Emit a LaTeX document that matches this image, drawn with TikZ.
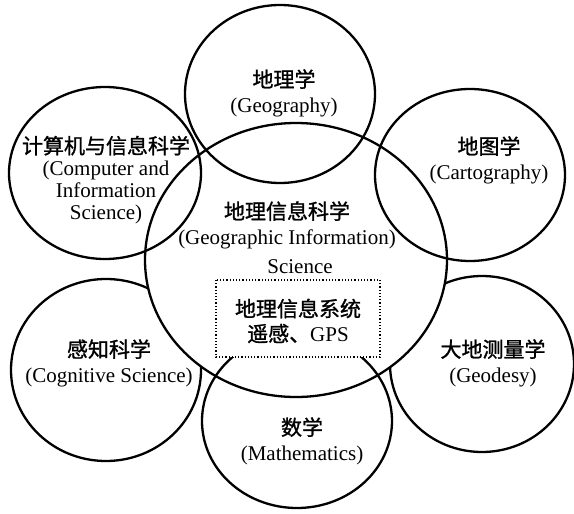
\documentclass[tikz,border=0pt]{standalone}
\usepackage{fontspec}
\setmainfont{Liberation Serif}
\newfontfamily\cjk{Noto Sans CJK SC}[FakeBold=1.2]
\usetikzlibrary{positioning}

\begin{document}
\begin{tikzpicture}[x=0.5pt, y=0.5pt, line width=1.15pt,
    label/.style={align=center, inner sep=0pt, font=\fontsize{10.5}{12.5}\selectfont}]
% GIS among its neighbouring disciplines
\def\centrecircle{(296,-260) ellipse (151 and 137)}
\def\geocircle{(280,-94) ellipse (95 and 89)}
\def\compcircle{(105,-173) ellipse (96 and 86)}
\def\cartocircle{(470,-175) ellipse (95 and 86)}
\def\cogcircle{(106,-370) ellipse (95 and 91)}
\def\geodcircle{(482,-364) ellipse (92 and 88)}
\def\mathcircle{(297,-421) ellipse (95 and 87)}

\path[use as bounding box] (0,0) rectangle (574,-514);

% the lower side circles sit behind the big one
\draw \cogcircle;
\draw \geodcircle;
\filldraw[fill=white] \centrecircle;

\draw \geocircle;
\draw \compcircle;
\draw \cartocircle;
\draw \mathcircle;

% core technologies box
\filldraw[fill=white, line width=0.6pt, densely dotted] (216,-280) rectangle (380,-357);

\node[label] (geo) at (284,-93) {{\cjk 地理学}\\(Geography)};
\node[label, font=\fontsize{10.5}{11}\selectfont] (comp) at (106,-180)
    {{\cjk 计算机与信息科学}\\(Computer and\\Information\\Science)};
\node[label] (carto) at (489,-160) {{\cjk 地图学}\\(Cartography)};
\node[label] (gis) at (287,-225) {{\cjk 地理信息科学}\\(Geographic Information)};
\node[label] (sci) at (300,-267) {Science};
\node[label] (core) at (298,-321) {{\cjk 地理信息系统}\\{\cjk 遥感、}GPS};
\node[label] (cog) at (109,-363) {{\cjk 感知科学}\\(Cognitive Science)};
\node[label] (geod) at (493,-363) {{\cjk 大地测量学}\\(Geodesy)};
\node[label] (math) at (302,-441) {{\cjk 数学}\\(Mathematics)};
\end{tikzpicture}
\end{document}
